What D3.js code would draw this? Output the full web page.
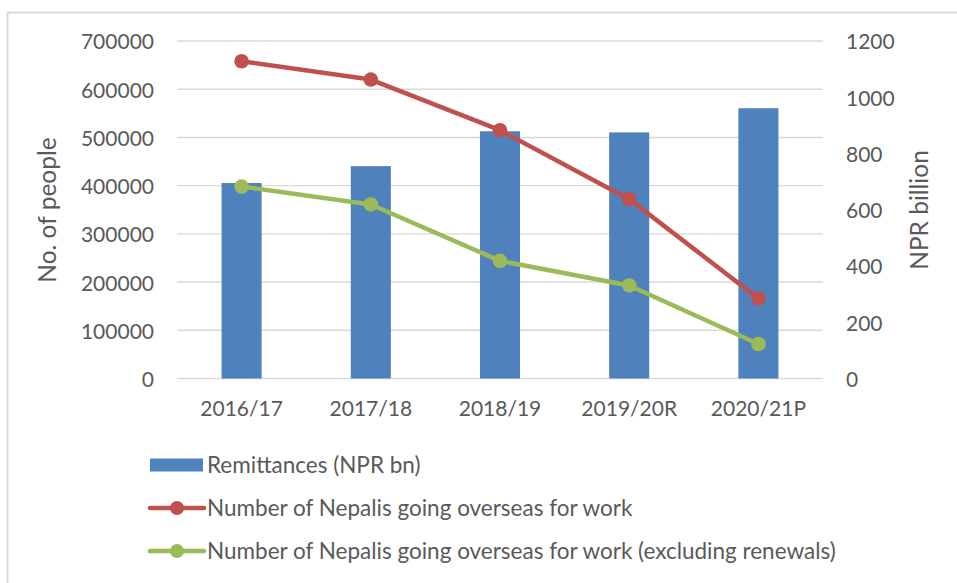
<!DOCTYPE html>
<html>
<head>
<meta charset="utf-8">
<script src="https://cdn.jsdelivr.net/npm/d3@7"></script>
<style>
  html, body { margin: 0; padding: 0; background: #fff; }
  svg { display: block; font-family: Lato, "Open Sans", sans-serif; }
</style>
</head>
<body>
<svg id="chart" width="957" height="583"></svg>
<script>
// Fiscal years
const categories = ["2016/17", "2017/18", "2018/19", "2019/20R", "2020/21P"];
// Remittance inflows, NPR billion (right axis)
const remittances = [695, 755, 879, 875, 961];
// Labour permits issued, all (left axis)
const workersAll = [658000, 620000, 515000, 372000, 166000];
// Labour permits issued, excluding renewals (left axis)
const workersNew = [398000, 361000, 244000, 193000, 71500];
// Axis ticks
const leftTicks = [0, 100000, 200000, 300000, 400000, 500000, 600000, 700000];
const rightTicks = [0, 200, 400, 600, 800, 1000, 1200];

const seriesNames = [
  "Remittances (NPR bn)",
  "Number of Nepalis going overseas for work",
  "Number of Nepalis going overseas for work (excluding renewals)"
];
const colors = { bar: "#4f81bd", all: "#c0504d", fresh: "#9bbb59" };
const textColor = "#595959";
const gridColor = "#d9d9d9";

const svg = d3.select("#chart");
const plot = { left: 177, right: 823, top: 41, bottom: 378.5 };

// outer frame
svg.append("rect")
  .attr("x", 7.5).attr("y", 12.5)
  .attr("width", 1000).attr("height", 1000)
  .attr("fill", "none").attr("stroke", gridColor).attr("stroke-width", 2);

const x = d3.scaleBand()
  .domain(categories)
  .range([plot.left, plot.right])
  .paddingInner(0.69)
  .paddingOuter(0.345);

const yLeft = d3.scaleLinear().domain([0, 700000]).range([plot.bottom, plot.top]);
const yRight = d3.scaleLinear().domain([0, 1200]).range([plot.bottom, plot.top]);

// gridlines
svg.append("g")
  .selectAll("line")
  .data(leftTicks)
  .join("line")
  .attr("x1", plot.left).attr("x2", plot.right)
  .attr("y1", d => yLeft(d)).attr("y2", d => yLeft(d))
  .attr("stroke", gridColor).attr("stroke-width", 1.4);

// left axis labels
const leftAxis = d3.axisLeft(yLeft).tickValues(leftTicks).tickFormat(d3.format("d")).tickSize(0).tickPadding(23);
const gL = svg.append("g").attr("transform", `translate(${plot.left},0)`).call(leftAxis);
gL.select(".domain").remove();
gL.selectAll("text").attr("fill", textColor).attr("font-size", 21).attr("font-family", "Lato, sans-serif").attr("dy", "0.38em");

// right axis labels
const rightAxis = d3.axisRight(yRight).tickValues(rightTicks).tickFormat(d3.format("d")).tickSize(0).tickPadding(23);
const gR = svg.append("g").attr("transform", `translate(${plot.right},0)`).call(rightAxis);
gR.select(".domain").remove();
gR.selectAll("text").attr("fill", textColor).attr("font-size", 21).attr("font-family", "Lato, sans-serif").attr("dy", "0.38em");

// category labels
const xAxis = d3.axisBottom(x).tickSize(0).tickPadding(23);
const gX = svg.append("g").attr("transform", `translate(0,${plot.bottom})`).call(xAxis);
gX.select(".domain").remove();
gX.selectAll("text").attr("fill", textColor).attr("font-size", 21).attr("font-family", "Lato, sans-serif");

// axis titles
svg.append("text")
  .attr("transform", `translate(56,210) rotate(-90)`)
  .attr("text-anchor", "middle")
  .attr("fill", textColor).attr("font-size", 24.5)
  .text("No. of people");
svg.append("text")
  .attr("transform", `translate(928,210) rotate(-90)`)
  .attr("text-anchor", "middle")
  .attr("fill", textColor).attr("font-size", 24.5)
  .text("NPR billion");

// remittance bars
svg.append("g")
  .selectAll("rect")
  .data(remittances)
  .join("rect")
  .attr("x", (d, i) => x(categories[i]))
  .attr("width", x.bandwidth())
  .attr("y", d => yRight(d))
  .attr("height", d => yRight(0) - yRight(d))
  .attr("fill", colors.bar);

const cx = c => x(c) + x.bandwidth() / 2;

function drawLine(values, color) {
  const line = d3.line().x((d, i) => cx(categories[i])).y(d => yLeft(d));
  svg.append("path")
    .datum(values)
    .attr("d", line)
    .attr("fill", "none")
    .attr("stroke", color)
    .attr("stroke-width", 4.5)
    .attr("stroke-linejoin", "round")
    .attr("stroke-linecap", "round");
  svg.append("g")
    .selectAll("circle")
    .data(values)
    .join("circle")
    .attr("cx", (d, i) => cx(categories[i]))
    .attr("cy", d => yLeft(d))
    .attr("r", 7.3)
    .attr("fill", color);
}
drawLine(workersAll, colors.all);
drawLine(workersNew, colors.fresh);

// legend
const legend = svg.append("g");
const legendRows = [
  { name: seriesNames[0], type: "bar", color: colors.bar, y: 465 },
  { name: seriesNames[1], type: "line", color: colors.all, y: 508 },
  { name: seriesNames[2], type: "line", color: colors.fresh, y: 551 }
];
legendRows.forEach(r => {
  if (r.type === "bar") {
    legend.append("rect").attr("x", 150).attr("y", r.y - 6.5).attr("width", 53).attr("height", 13).attr("fill", r.color);
  } else {
    legend.append("line").attr("x1", 150).attr("x2", 204).attr("y1", r.y).attr("y2", r.y)
      .attr("stroke", r.color).attr("stroke-width", 4.5).attr("stroke-linecap", "round");
    legend.append("circle").attr("cx", 177).attr("cy", r.y).attr("r", 7).attr("fill", r.color);
  }
  legend.append("text")
    .attr("x", 207).attr("y", r.y).attr("dy", "0.36em")
    .attr("fill", textColor).attr("font-size", 22.5)
    .text(r.name);
});
</script>
</body>
</html>
